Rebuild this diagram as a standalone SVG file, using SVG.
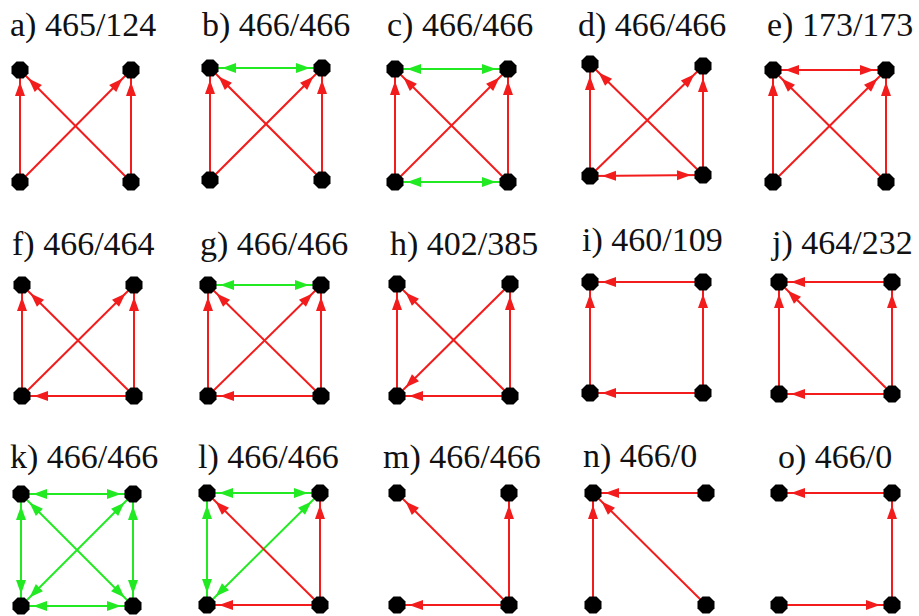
<svg xmlns="http://www.w3.org/2000/svg" xmlns:xlink="http://www.w3.org/1999/xlink" width="919" height="616" viewBox="0 0 919 616">
<style>
text{font-family:"Liberation Serif","Times New Roman",serif;font-size:34px;fill:#111}
.r{stroke:#f21c1c;stroke-width:2;fill:none;marker-end:url(#ar)}
.rb{stroke:#f21c1c;stroke-width:2;fill:none;marker-end:url(#ar);marker-start:url(#ar)}
.g{stroke:#22ea22;stroke-width:2;fill:none;marker-end:url(#ag);marker-start:url(#ag)}
.n{fill:#000}
</style>
<defs>
<marker id="ar" viewBox="-30 -8 32 16" refX="0" refY="0" markerWidth="32" markerHeight="16" markerUnits="userSpaceOnUse" orient="auto-start-reverse"><path d="M-12,0 L-26,-5 L-26,5 Z" fill="#f21c1c"/></marker>
<marker id="ag" viewBox="-30 -8 32 16" refX="0" refY="0" markerWidth="32" markerHeight="16" markerUnits="userSpaceOnUse" orient="auto-start-reverse"><path d="M-12,0 L-26,-5 L-26,5 Z" fill="#22ea22"/></marker>
<polygon id="nd" class="n" points="8.5,3.5 3.5,8.5 -3.5,8.5 -8.5,3.5 -8.5,-3.5 -3.5,-8.5 3.5,-8.5 8.5,-3.5"/>
</defs>
<rect width="919" height="616" fill="#fff"/>

<g id="labels">
<text x="10" y="36">a) 465/124</text>
<text x="202" y="36">b) 466/466</text>
<text x="387" y="36">c) 466/466</text>
<text x="578" y="36">d) 466/466</text>
<text x="767" y="36">e) 173/173</text>
<text x="12" y="255">f) 466/464</text>
<text x="200" y="255">g) 466/466</text>
<text x="390" y="255">h) 402/385</text>
<text x="582" y="251">i) 460/109</text>
<text x="772" y="254">j) 464/232</text>
<text x="10" y="468">k) 466/466</text>
<text x="198" y="468">l) 466/466</text>
<text x="383" y="468">m) 466/466</text>
<text x="583" y="467">n) 466/0</text>
<text x="778" y="468">o) 466/0</text>
</g>

<g id="connectors">
<!-- a -->
<line class="r" x1="20" y1="182" x2="20" y2="70"/>
<line class="r" x1="131" y1="182" x2="20" y2="70"/>
<line class="r" x1="20" y1="182" x2="131" y2="70"/>
<line class="r" x1="131" y1="182" x2="131" y2="70"/>
<!-- b -->
<line class="r" x1="210" y1="180" x2="210" y2="68"/>
<line class="r" x1="322" y1="180" x2="210" y2="68"/>
<line class="r" x1="210" y1="180" x2="322" y2="68"/>
<line class="r" x1="322" y1="180" x2="322" y2="68"/>
<line class="g" x1="210" y1="68" x2="322" y2="68"/>
<!-- c -->
<line class="r" x1="395" y1="182" x2="395" y2="69"/>
<line class="r" x1="508" y1="182" x2="395" y2="69"/>
<line class="r" x1="395" y1="182" x2="508" y2="69"/>
<line class="r" x1="508" y1="182" x2="508" y2="69"/>
<line class="g" x1="395" y1="69" x2="508" y2="69"/>
<line class="g" x1="395" y1="182" x2="508" y2="182"/>
<!-- d -->
<line class="r" x1="590" y1="176" x2="590" y2="64"/>
<line class="r" x1="703" y1="175" x2="590" y2="64"/>
<line class="r" x1="590" y1="176" x2="703" y2="66"/>
<line class="r" x1="703" y1="175" x2="703" y2="66"/>
<line class="rb" x1="590" y1="176" x2="703" y2="175"/>
<!-- e -->
<line class="r" x1="773" y1="182" x2="773" y2="70"/>
<line class="r" x1="886" y1="182" x2="773" y2="70"/>
<line class="r" x1="773" y1="182" x2="886" y2="70"/>
<line class="r" x1="886" y1="182" x2="886" y2="70"/>
<line class="rb" x1="773" y1="70" x2="886" y2="70"/>
<!-- f -->
<line class="r" x1="22" y1="396" x2="22" y2="285"/>
<line class="r" x1="134" y1="396" x2="22" y2="285"/>
<line class="r" x1="22" y1="396" x2="134" y2="285"/>
<line class="r" x1="134" y1="396" x2="134" y2="285"/>
<line class="r" x1="134" y1="396" x2="22" y2="396"/>
<!-- g -->
<line class="r" x1="208" y1="396" x2="208" y2="285"/>
<line class="r" x1="321" y1="396" x2="208" y2="285"/>
<line class="r" x1="208" y1="396" x2="321" y2="285"/>
<line class="r" x1="321" y1="396" x2="321" y2="285"/>
<line class="r" x1="321" y1="396" x2="208" y2="396"/>
<line class="g" x1="208" y1="285" x2="321" y2="285"/>
<!-- h -->
<line class="r" x1="397" y1="396" x2="397" y2="284"/>
<line class="r" x1="510" y1="396" x2="397" y2="284"/>
<line class="r" x1="510" y1="396" x2="510" y2="284"/>
<line class="r" x1="510" y1="284" x2="397" y2="396"/>
<line class="r" x1="510" y1="396" x2="397" y2="396"/>
<!-- i -->
<line class="r" x1="703" y1="282" x2="590" y2="282"/>
<line class="r" x1="590" y1="393" x2="590" y2="282"/>
<line class="r" x1="703" y1="393" x2="703" y2="282"/>
<line class="r" x1="703" y1="393" x2="590" y2="393"/>
<!-- j -->
<line class="r" x1="892" y1="282" x2="779" y2="282"/>
<line class="r" x1="779" y1="394" x2="779" y2="282"/>
<line class="r" x1="892" y1="394" x2="892" y2="282"/>
<line class="r" x1="892" y1="394" x2="779" y2="394"/>
<line class="r" x1="892" y1="394" x2="779" y2="282"/>
<!-- k -->
<line class="g" x1="21" y1="494" x2="133" y2="494"/>
<line class="g" x1="21" y1="494" x2="21" y2="606"/>
<line class="g" x1="133" y1="494" x2="133" y2="606"/>
<line class="g" x1="21" y1="606" x2="133" y2="606"/>
<line class="g" x1="21" y1="494" x2="133" y2="606"/>
<line class="g" x1="133" y1="494" x2="21" y2="606"/>
<!-- l -->
<line class="g" x1="207" y1="493" x2="320" y2="493"/>
<line class="g" x1="207" y1="493" x2="207" y2="605"/>
<line class="g" x1="320" y1="493" x2="207" y2="605"/>
<line class="r" x1="320" y1="605" x2="207" y2="493"/>
<line class="r" x1="320" y1="605" x2="320" y2="493"/>
<line class="r" x1="320" y1="605" x2="207" y2="605"/>
<!-- m -->
<line class="r" x1="509" y1="605" x2="397" y2="493"/>
<line class="r" x1="509" y1="605" x2="509" y2="493"/>
<line class="r" x1="509" y1="605" x2="397" y2="605"/>
<!-- n -->
<line class="r" x1="706" y1="493" x2="593" y2="493"/>
<line class="r" x1="593" y1="605" x2="593" y2="493"/>
<line class="r" x1="706" y1="605" x2="593" y2="493"/>
<!-- o -->
<line class="r" x1="892" y1="493" x2="779" y2="493"/>
<line class="r" x1="892" y1="605" x2="892" y2="493"/>
<line class="r" x1="779" y1="605" x2="892" y2="605"/>
</g>

<g id="nodes">
<g id="a-TL"><use href="#nd" x="20" y="70"/></g><g id="a-TR"><use href="#nd" x="131" y="70"/></g><g id="a-BL"><use href="#nd" x="20" y="182"/></g><g id="a-BR"><use href="#nd" x="131" y="182"/></g>
<g id="b-TL"><use href="#nd" x="210" y="68"/></g><g id="b-TR"><use href="#nd" x="322" y="68"/></g><g id="b-BL"><use href="#nd" x="210" y="180"/></g><g id="b-BR"><use href="#nd" x="322" y="180"/></g>
<g id="c-TL"><use href="#nd" x="395" y="69"/></g><g id="c-TR"><use href="#nd" x="508" y="69"/></g><g id="c-BL"><use href="#nd" x="395" y="182"/></g><g id="c-BR"><use href="#nd" x="508" y="182"/></g>
<g id="d-TL"><use href="#nd" x="590" y="64"/></g><g id="d-TR"><use href="#nd" x="703" y="66"/></g><g id="d-BL"><use href="#nd" x="590" y="176"/></g><g id="d-BR"><use href="#nd" x="703" y="175"/></g>
<g id="e-TL"><use href="#nd" x="773" y="70"/></g><g id="e-TR"><use href="#nd" x="886" y="70"/></g><g id="e-BL"><use href="#nd" x="773" y="182"/></g><g id="e-BR"><use href="#nd" x="886" y="182"/></g>
<g id="f-TL"><use href="#nd" x="22" y="285"/></g><g id="f-TR"><use href="#nd" x="134" y="285"/></g><g id="f-BL"><use href="#nd" x="22" y="396"/></g><g id="f-BR"><use href="#nd" x="134" y="396"/></g>
<g id="g-TL"><use href="#nd" x="208" y="285"/></g><g id="g-TR"><use href="#nd" x="321" y="285"/></g><g id="g-BL"><use href="#nd" x="208" y="396"/></g><g id="g-BR"><use href="#nd" x="321" y="396"/></g>
<g id="h-TL"><use href="#nd" x="397" y="284"/></g><g id="h-TR"><use href="#nd" x="510" y="284"/></g><g id="h-BL"><use href="#nd" x="397" y="396"/></g><g id="h-BR"><use href="#nd" x="510" y="396"/></g>
<g id="i-TL"><use href="#nd" x="590" y="282"/></g><g id="i-TR"><use href="#nd" x="703" y="282"/></g><g id="i-BL"><use href="#nd" x="590" y="393"/></g><g id="i-BR"><use href="#nd" x="703" y="393"/></g>
<g id="j-TL"><use href="#nd" x="779" y="282"/></g><g id="j-TR"><use href="#nd" x="892" y="282"/></g><g id="j-BL"><use href="#nd" x="779" y="394"/></g><g id="j-BR"><use href="#nd" x="892" y="394"/></g>
<g id="k-TL"><use href="#nd" x="21" y="494"/></g><g id="k-TR"><use href="#nd" x="133" y="494"/></g><g id="k-BL"><use href="#nd" x="21" y="606"/></g><g id="k-BR"><use href="#nd" x="133" y="606"/></g>
<g id="l-TL"><use href="#nd" x="207" y="493"/></g><g id="l-TR"><use href="#nd" x="320" y="493"/></g><g id="l-BL"><use href="#nd" x="207" y="605"/></g><g id="l-BR"><use href="#nd" x="320" y="605"/></g>
<g id="m-TL"><use href="#nd" x="397" y="493"/></g><g id="m-TR"><use href="#nd" x="509" y="493"/></g><g id="m-BL"><use href="#nd" x="397" y="605"/></g><g id="m-BR"><use href="#nd" x="509" y="605"/></g>
<g id="n-TL"><use href="#nd" x="593" y="493"/></g><g id="n-TR"><use href="#nd" x="706" y="493"/></g><g id="n-BL"><use href="#nd" x="593" y="605"/></g><g id="n-BR"><use href="#nd" x="706" y="605"/></g>
<g id="o-TL"><use href="#nd" x="779" y="493"/></g><g id="o-TR"><use href="#nd" x="892" y="493"/></g><g id="o-BL"><use href="#nd" x="779" y="605"/></g><g id="o-BR"><use href="#nd" x="892" y="605"/></g>
</g>
</svg>
